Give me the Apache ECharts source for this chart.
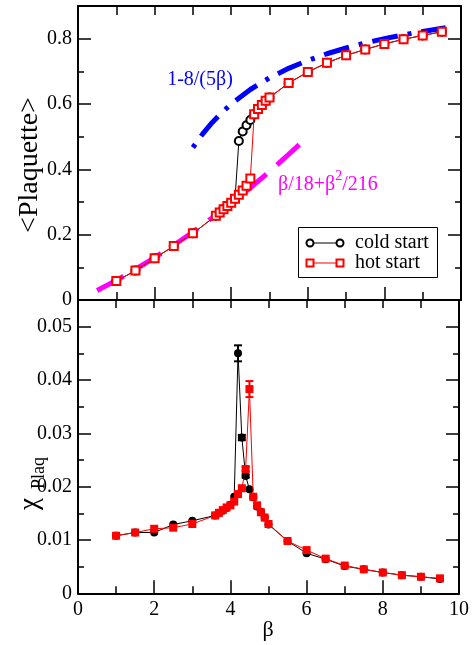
<!DOCTYPE html>
<html><head><meta charset="utf-8">
<script src="https://cdn.jsdelivr.net/npm/echarts@6/dist/echarts.min.js"></script>
<style>html,body{margin:0;padding:0;background:#fff}#c{width:472px;height:645px}</style>
</head><body><div id="c"></div>
<script>
// ---- data ----
const betaVals = [1, 1.5, 2, 2.5, 3, 3.6, 3.7, 3.8, 3.9, 4.0, 4.1, 4.2, 4.3, 4.4, 4.5, 4.6, 4.7, 4.8, 4.9, 5.0, 5.5, 6, 6.5, 7, 7.5, 8, 8.5, 9, 9.5];
const coldPlaq = [0.058, 0.090, 0.128, 0.165, 0.204, 0.258, 0.268, 0.278, 0.288, 0.298, 0.310, 0.487, 0.516, 0.535, 0.551, 0.569, 0.585, 0.597, 0.610, 0.620, 0.664, 0.698, 0.726, 0.749, 0.767, 0.784, 0.798, 0.810, 0.821];
const hotPlaq  = [0.058, 0.090, 0.128, 0.165, 0.204, 0.258, 0.268, 0.278, 0.288, 0.298, 0.310, 0.322, 0.335, 0.350, 0.372, 0.569, 0.585, 0.597, 0.610, 0.620, 0.664, 0.698, 0.726, 0.749, 0.767, 0.784, 0.798, 0.810, 0.821];
const coldChi  = [0.0108, 0.0114, 0.0114, 0.0129, 0.0136, 0.0146, 0.0150, 0.0155, 0.0160, 0.0166, 0.0181, 0.0450, 0.0292, 0.0220, 0.0195, 0.0180, 0.0163, 0.0153, 0.0142, 0.0129, 0.0098, 0.0075, 0.0064, 0.0051, 0.0045, 0.0039, 0.0034, 0.0031, 0.0027];
const hotChi   = [0.0108, 0.0114, 0.0121, 0.0123, 0.0130, 0.0146, 0.0151, 0.0156, 0.0161, 0.0165, 0.0172, 0.0186, 0.0197, 0.0233, 0.0383, 0.0181, 0.0165, 0.0152, 0.0142, 0.0130, 0.0098, 0.0081, 0.0065, 0.0052, 0.0045, 0.0039, 0.0034, 0.0031, 0.0028];
const coldChiErr = [0,0,0,0,0,0,0,0,0,0,0,0.0015,0.0005,0.0003,0,0,0,0,0,0,0,0,0,0,0,0,0,0,0];
const hotChiErr  = [0,0,0,0,0,0,0,0,0,0,0,0,0,0.0004,0.0015,0,0,0,0,0,0,0,0,0,0,0,0,0,0];
// strong-coupling curve beta/18 + beta^2/216 (values read along the magenta dashes)
const strongBeta = [0.5, 1, 1.5, 2, 2.5, 3, 3.5, 4, 4.5, 5, 5.5, 5.8];
const strongVal  = [0.0289, 0.0602, 0.0938, 0.1296, 0.1678, 0.2083, 0.2512, 0.2963, 0.3437, 0.3935, 0.4456, 0.4779];
// weak-coupling curve 1 - 8/(5 beta) (values read along the blue dash-dots)
const weakBeta = [3, 3.25, 3.5, 3.75, 4, 4.5, 5, 5.5, 6, 6.5, 7, 7.5, 8, 8.5, 9, 9.6];
const weakVal  = [0.4667, 0.5077, 0.5429, 0.5733, 0.6, 0.6444, 0.68, 0.7091, 0.7333, 0.7538, 0.7714, 0.7867, 0.8, 0.8118, 0.8222, 0.8333];
const xTicks = [0, 2, 4, 6, 8, 10];
const plaqTicks = [0, 0.2, 0.4, 0.6, 0.8];
const chiTicks = [0, 0.01, 0.02, 0.03, 0.04, 0.05];
const labels = { cold: 'cold start', hot: 'hot start', weak: '1-8/(5β)', x: 'β', yTop: '<Plaquette>', chi: 'χ', chiSub: 'Plaq' };

const FONT = 'Liberation Serif';
const pairs = (xs, ys) => xs.map((x, i) => [x, ys[i]]);
const triples = (xs, ys, es) => xs.map((x, i) => [x, ys[i], es[i]]).filter(d => d[2] > 0);

function xAx(grid, pos, opts) {
  return Object.assign({
    type: 'value', gridIndex: grid, position: pos, min: 0, max: 10, interval: 2,
    axisLine: { show: true, onZero: false, lineStyle: { color: '#000', width: 2 } },
    axisTick: { show: true, inside: true, length: 13, lineStyle: { color: '#000', width: 1.5 } },
    minorTick: { show: true, splitNumber: 2, length: 7, lineStyle: { color: '#000', width: 1.5 } },
    axisLabel: { show: false },
    splitLine: { show: false }, minorSplitLine: { show: false }
  }, opts || {});
}
function yAx(grid, pos, max, interval, len, showLabel, showLine, hideAbove) {
  return {
    type: 'value', gridIndex: grid, position: pos, min: 0, max: max, interval: interval,
    axisLine: { show: showLine, onZero: false, lineStyle: { color: '#000', width: 2 } },
    axisTick: { show: true, inside: true, length: len, lineStyle: { color: '#000', width: 1.5 } },
    axisLabel: showLabel ? { show: true, margin: 6, color: '#000', fontFamily: FONT, fontSize: 20,
      formatter: v => (v > hideAbove ? '' : String(+v.toFixed(3))) } : { show: false },
    splitLine: { show: false }
  };
}

const openStyle = c => ({ color: '#fff', borderColor: c, borderWidth: 2 });
const errSeries = (data, color, xi, yi) => ({
  type: 'custom', xAxisIndex: xi, yAxisIndex: yi, data: data, z: 5,
  renderItem: (params, api) => {
    const x = api.value(0), y = api.value(1), e = api.value(2);
    const t = api.coord([x, y + e]), b = api.coord([x, y - e]);
    const s = { stroke: color, lineWidth: 2 };
    return { type: 'group', children: [
      { type: 'line', shape: { x1: t[0], y1: t[1], x2: b[0], y2: b[1] }, style: s },
      { type: 'line', shape: { x1: t[0] - 4, y1: t[1], x2: t[0] + 4, y2: t[1] }, style: s },
      { type: 'line', shape: { x1: b[0] - 4, y1: b[1], x2: b[0] + 4, y2: b[1] }, style: s }
    ] };
  }
});

const option = {
  animation: false,
  backgroundColor: '#fff',
  grid: [
    { left: 78, right: 11, top: 6, height: 294 },
    { left: 78, right: 11, top: 300, height: 293.3 }
  ],
  xAxis: [
    xAx(0, 'bottom', { minorTick: { show: true, splitNumber: 2, length: 8, lineStyle: { color: '#000', width: 1.5 } } }),
    xAx(0, 'top', { axisTick: { show: true, inside: true, length: 9, lineStyle: { color: '#000', width: 1.5 } },
                    minorTick: { show: true, splitNumber: 2, length: 9, lineStyle: { color: '#000', width: 1.5 } } }),
    xAx(1, 'bottom', { axisLabel: { show: true, margin: 6, color: '#000', fontFamily: FONT, fontSize: 20 } }),
    xAx(1, 'top', { axisTick: { show: true, inside: true, length: 8, lineStyle: { color: '#000', width: 1.5 } },
                    minorTick: { show: true, splitNumber: 2, length: 8, lineStyle: { color: '#000', width: 1.5 } } })
  ],
  yAxis: [
    yAx(0, 'left', 0.9, 0.2, 13, true, true, 0.85),
    yAx(0, 'left', 0.9, 0.1, 6, false, false),
    yAx(0, 'right', 0.9, 0.2, 13, false, true),
    yAx(0, 'right', 0.9, 0.1, 6, false, false),
    yAx(1, 'left', 0.055, 0.01, 13, true, true, 0.0525),
    yAx(1, 'left', 0.055, 0.005, 6, false, false),
    yAx(1, 'right', 0.055, 0.01, 13, false, true),
    yAx(1, 'right', 0.055, 0.005, 6, false, false)
  ],
  series: [
    { type: 'line', xAxisIndex: 0, yAxisIndex: 0, data: pairs(strongBeta, strongVal), showSymbol: false, smooth: false,
      lineStyle: { color: '#ff00ff', width: 5, type: [30, 14], cap: 'butt' }, z: 1 },
    { type: 'line', xAxisIndex: 0, yAxisIndex: 0, data: pairs(weakBeta, weakVal), showSymbol: false,
      lineStyle: { color: '#0000ff', width: 5, type: [26, 10, 4, 10], dashOffset: 36, cap: 'butt' }, z: 1 },
    { type: 'line', xAxisIndex: 0, yAxisIndex: 0, data: pairs(betaVals, coldPlaq), symbol: 'circle', symbolSize: 8,
      itemStyle: openStyle('#000'), lineStyle: { color: '#000', width: 1 }, z: 3 },
    { type: 'line', xAxisIndex: 0, yAxisIndex: 0, data: pairs(betaVals, hotPlaq), symbol: 'rect', symbolSize: 8,
      itemStyle: openStyle('#ff0000'), lineStyle: { color: '#ff0000', width: 1 }, z: 4 },
    { type: 'line', xAxisIndex: 2, yAxisIndex: 4, data: pairs(betaVals, coldChi), symbol: 'circle', symbolSize: 8,
      itemStyle: { color: '#000' }, lineStyle: { color: '#000', width: 1 }, z: 3 },
    { type: 'line', xAxisIndex: 2, yAxisIndex: 4, data: pairs(betaVals, hotChi), symbol: 'rect', symbolSize: 8,
      itemStyle: { color: '#ff0000' }, lineStyle: { color: '#ff0000', width: 1 }, z: 4 },
    errSeries(triples(betaVals, coldChi, coldChiErr), '#000', 2, 4),
    errSeries(triples(betaVals, hotChi, hotChiErr), '#ff0000', 2, 4)
  ],
  graphic: [
    { type: 'text', x: 200, y: 80, style: { text: labels.weak, fill: '#0000ff', font: '20px "Liberation Serif"', align: 'center', verticalAlign: 'middle' } },
    { type: 'text', x: 278, y: 182, style: {
        text: '{n|β/18+β}{p|2}{n|/216}', align: 'left', verticalAlign: 'middle',
        rich: { n: { fontFamily: FONT, fontSize: 20, lineHeight: 26, fill: '#ff00ff', verticalAlign: 'bottom' },
                p: { fontFamily: FONT, fontSize: 14, lineHeight: 14, fill: '#ff00ff', verticalAlign: 'top' } } } },
    { type: 'text', x: 30, y: 165, rotation: Math.PI / 2, style: { text: labels.yTop, fill: '#000', font: '28px "Liberation Serif"', align: 'center', verticalAlign: 'middle' } },
    { type: 'text', x: 30, y: 504, rotation: Math.PI / 2, style: { text: labels.chi, fill: '#000', font: '27px "Liberation Serif"', align: 'center', verticalAlign: 'middle' } },
    { type: 'text', x: 39, y: 473, rotation: Math.PI / 2, style: { text: labels.chiSub, fill: '#000', font: '18px "Liberation Serif"', align: 'center', verticalAlign: 'middle' } },
    { type: 'text', x: 268, y: 630, style: { text: labels.x, fill: '#000', font: '22px "Liberation Serif"', align: 'center', verticalAlign: 'middle' } },
    // legend
    { type: 'rect', shape: { x: 298.5, y: 227.5, width: 139, height: 50 }, style: { fill: '#fff', stroke: '#000', lineWidth: 1 }, z: 10 },
    { type: 'line', shape: { x1: 310, y1: 243, x2: 340, y2: 243 }, style: { stroke: '#000', lineWidth: 1 }, z: 11 },
    { type: 'circle', shape: { cx: 310, cy: 243, r: 3.5 }, style: { fill: '#fff', stroke: '#000', lineWidth: 2 }, z: 12 },
    { type: 'circle', shape: { cx: 340, cy: 243, r: 3.5 }, style: { fill: '#fff', stroke: '#000', lineWidth: 2 }, z: 12 },
    { type: 'text', x: 355, y: 243, style: { text: labels.cold, fill: '#000', font: '20px "Liberation Serif"', align: 'left', verticalAlign: 'middle' }, z: 12 },
    { type: 'line', shape: { x1: 310, y1: 263, x2: 340, y2: 263 }, style: { stroke: '#ff0000', lineWidth: 1 }, z: 11 },
    { type: 'rect', shape: { x: 306.5, y: 259.5, width: 7, height: 7 }, style: { fill: '#fff', stroke: '#ff0000', lineWidth: 2 }, z: 12 },
    { type: 'rect', shape: { x: 336.5, y: 259.5, width: 7, height: 7 }, style: { fill: '#fff', stroke: '#ff0000', lineWidth: 2 }, z: 12 },
    { type: 'text', x: 355, y: 263, style: { text: labels.hot, fill: '#000', font: '20px "Liberation Serif"', align: 'left', verticalAlign: 'middle' }, z: 12 }
  ]
};
const chart = echarts.init(document.getElementById('c'), null, { renderer: 'canvas' });
chart.setOption(option);
</script></body></html>
